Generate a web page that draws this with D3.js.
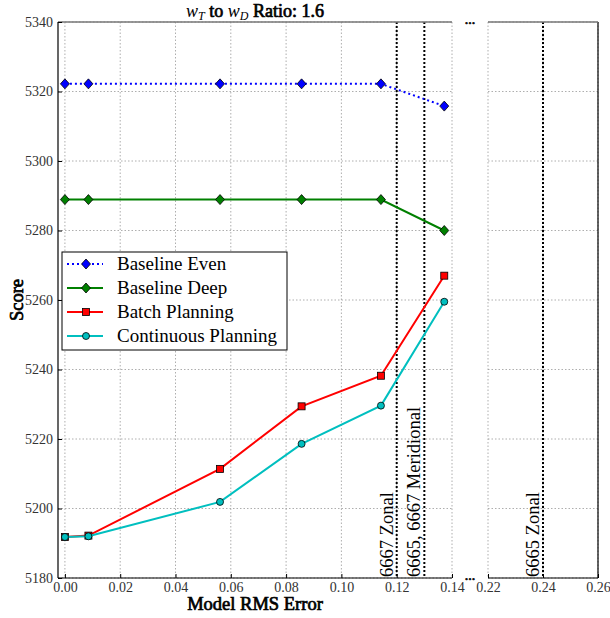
<!DOCTYPE html>
<html>
<head>
<meta charset="utf-8">
<script src="https://cdn.jsdelivr.net/npm/d3@7"></script>
<style>
  body { margin: 0; background: #fff; }
  svg text, svg tspan { font-family: "Liberation Serif", "Times New Roman", serif !important; }
  .fakebold { font-weight: normal; stroke: #000; stroke-width: 0.7px; }
</style>
</head>
<body>
<script>
'use strict';

// model RMS error for each run
const rmsError = [0.0, 0.0085, 0.0561, 0.0856, 0.1143, 0.1372];

const seriesNames = ['Baseline Even', 'Baseline Deep', 'Batch Planning', 'Continuous Planning'];
const baselineEven = [5322.2, 5322.2, 5322.2, 5322.2, 5322.2, 5315.8];
const baselineDeep = [5288.9, 5288.9, 5288.9, 5288.9, 5288.9, 5280.0];
const batchPlanning = [5191.8, 5192.2, 5211.4, 5229.4, 5238.2, 5267.0];
const continuousPlanning = [5191.8, 5192.0, 5201.9, 5218.6, 5229.6, 5259.5];

// reference grid configurations
const refX = [0.12, 0.13, 0.24];
const refLabels = ['6667 Zonal', '6665, 6667 Meridional', '6665 Zonal'];

const xTicksLeft = [0.00, 0.02, 0.04, 0.06, 0.08, 0.10, 0.12, 0.14];
const xTicksRight = [0.22, 0.24, 0.26];
const yTicks = [5180, 5200, 5220, 5240, 5260, 5280, 5300, 5320, 5340];

(function () {
  let svg = d3.select('body').append('svg')
    .attr('width', 610)
    .attr('height', 618);

  let xL = d3.scaleLinear().domain([-0.0025, 0.14]).range([58, 452]);
  let xR = d3.scaleLinear().domain([0.22, 0.26]).range([488, 598]);
  let y = d3.scaleLinear().domain([5180, 5340]).range([578, 22]);

  // grids
  function grid(xs, ticks, x0, x1) {
    let g = svg.append('g');
    g.selectAll('.vg').data(ticks).enter().append('line')
      .attr('x1', (d) => xs(d)).attr('x2', (d) => xs(d))
      .attr('y1', y(5340)).attr('y2', y(5180))
      .attr('stroke', '#999').attr('stroke-width', 0.8)
      .attr('stroke-dasharray', '1.5,2');
    g.selectAll('.hg').data(yTicks).enter().append('line')
      .attr('x1', x0).attr('x2', x1)
      .attr('y1', (d) => y(d)).attr('y2', (d) => y(d))
      .attr('stroke', '#999').attr('stroke-width', 0.8)
      .attr('stroke-dasharray', '1.5,2');
  }
  grid(xL, xTicksLeft, 58, 452);
  grid(xR, xTicksRight, 488, 598);

  // reference vertical lines
  refX.forEach(function (v, i) {
    let xs = v > 0.2 ? xR : xL;
    svg.append('line')
      .attr('x1', xs(v)).attr('x2', xs(v))
      .attr('y1', y(5340)).attr('y2', y(5180))
      .attr('stroke', '#000').attr('stroke-width', 2)
      .attr('stroke-dasharray', '2,2');
    svg.append('text')
      .attr('transform', 'translate(' + (xs(v) - 4) + ',' + (y(5180) - 1) + ')rotate(-90)')
      .style('font-size', '18.5px')
      .text(refLabels[i]);
  });

  // spines
  svg.append('line').attr('x1', 58).attr('x2', 58).attr('y1', 22).attr('y2', 578).attr('stroke', '#000').attr('stroke-width', 1.2);
  svg.append('line').attr('x1', 58).attr('x2', 452).attr('y1', 578).attr('y2', 578).attr('stroke', '#000').attr('stroke-width', 1.2);
  svg.append('line').attr('x1', 58).attr('x2', 452).attr('y1', 22).attr('y2', 22).attr('stroke', '#777').attr('stroke-width', 1.5);
  svg.append('line').attr('x1', 598).attr('x2', 598).attr('y1', 22).attr('y2', 578).attr('stroke', '#000').attr('stroke-width', 1.2);
  svg.append('line').attr('x1', 488).attr('x2', 598).attr('y1', 578).attr('y2', 578).attr('stroke', '#000').attr('stroke-width', 1.2);
  svg.append('line').attr('x1', 488).attr('x2', 598).attr('y1', 22).attr('y2', 22).attr('stroke', '#777').attr('stroke-width', 1.5);

  // axes tick labels
  let xAxisL = d3.axisBottom(xL).tickValues(xTicksLeft).tickFormat(d3.format('.2f')).tickSize(-4).tickPadding(4);
  let xAxisR = d3.axisBottom(xR).tickValues(xTicksRight).tickFormat(d3.format('.2f')).tickSize(-4).tickPadding(4);
  let yAxis = d3.axisLeft(y).tickValues(yTicks).tickFormat(d3.format('d')).tickSize(-4).tickPadding(5);
  [svg.append('g').attr('transform', 'translate(0,578)').call(xAxisL),
   svg.append('g').attr('transform', 'translate(0,578)').call(xAxisR),
   svg.append('g').attr('transform', 'translate(58,0)').call(yAxis)].forEach(function (g) {
    g.select('.domain').remove();
    g.attr('font-family', null);
    g.selectAll('text').style('font-size', '14px').attr('fill', '#333');
    g.selectAll('line').attr('stroke', '#000');
  });

  // break markers
  [22, 578].forEach(function (yy) {
    svg.append('text').attr('x', 470).attr('y', yy + 2).attr('text-anchor', 'middle')
      .attr('class', 'fakebold').style('font-size', '14px').text('...');
  });

  // series
  const series = [
    { name: seriesNames[0], vals: baselineEven, color: '#0000ff', dash: '2,3', marker: 'diamond' },
    { name: seriesNames[1], vals: baselineDeep, color: '#008000', dash: null, marker: 'diamond' },
    { name: seriesNames[2], vals: batchPlanning, color: '#ff0000', dash: null, marker: 'square' },
    { name: seriesNames[3], vals: continuousPlanning, color: '#00bfbf', dash: null, marker: 'circle' }
  ];

  let line = d3.line().x((d) => xL(d[0])).y((d) => y(d[1]));

  function drawMarker(g, type, cx, cy, color) {
    if (type === 'diamond') {
      g.append('path').attr('d', 'M' + cx + ',' + (cy - 5) + 'L' + (cx + 4.5) + ',' + cy + 'L' + cx + ',' + (cy + 5) + 'L' + (cx - 4.5) + ',' + cy + 'Z')
        .attr('fill', color).attr('stroke', '#000').attr('stroke-width', 0.8);
    } else if (type === 'square') {
      g.append('rect').attr('x', cx - 3.5).attr('y', cy - 3.5).attr('width', 7).attr('height', 7)
        .attr('fill', color).attr('stroke', '#000').attr('stroke-width', 0.8);
    } else {
      g.append('circle').attr('cx', cx).attr('cy', cy).attr('r', 3.5)
        .attr('fill', color).attr('stroke', '#000').attr('stroke-width', 0.8);
    }
  }

  series.forEach(function (s) {
    let pts = rmsError.map((x, i) => [x, s.vals[i]]);
    svg.append('path').datum(pts)
      .attr('d', line)
      .attr('fill', 'none')
      .attr('stroke', s.color)
      .attr('stroke-width', 2)
      .attr('stroke-dasharray', s.dash);
    let g = svg.append('g');
    pts.forEach((p) => drawMarker(g, s.marker, xL(p[0]), y(p[1]), s.color));
  });

  // legend
  let lg = svg.append('g');
  lg.append('rect').attr('x', 62).attr('y', 252).attr('width', 225).attr('height', 98)
    .attr('fill', '#fff').attr('stroke', '#000').attr('stroke-width', 1);
  series.forEach(function (s, i) {
    let yy = 264 + i * 24;
    lg.append('line').attr('x1', 67).attr('x2', 103).attr('y1', yy).attr('y2', yy)
      .attr('stroke', s.color).attr('stroke-width', 2).attr('stroke-dasharray', s.dash);
    drawMarker(lg, s.marker, 86, yy, s.color);
    lg.append('text').attr('x', 117).attr('y', yy + 6).style('font-size', '19px').text(s.name);
  });

  // title (bold imitated with a thin stroke)
  let t = svg.append('text').attr('x', 255).attr('y', 17).attr('text-anchor', 'middle')
    .style('font-size', '18px');
  t.append('tspan').style('font-style', 'italic').text('w');
  t.append('tspan').attr('dy', 3).style('font-size', '12px').style('font-style', 'italic').text('T');
  t.append('tspan').attr('dy', -3).attr('class', 'fakebold').text(' to ');
  t.append('tspan').style('font-style', 'italic').text('w');
  t.append('tspan').attr('dy', 3).style('font-size', '12px').style('font-style', 'italic').text('D');
  t.append('tspan').attr('dy', -3).attr('class', 'fakebold').text(' Ratio: 1.6');

  // axis labels
  svg.append('text').attr('x', 255).attr('y', 610).attr('text-anchor', 'middle')
    .attr('class', 'fakebold').style('font-size', '18.5px').text('Model RMS Error');
  svg.append('text').attr('transform', 'translate(23,300)rotate(-90)').attr('text-anchor', 'middle')
    .attr('class', 'fakebold').style('font-size', '18.5px').text('Score');
})();
</script>
</body>
</html>
